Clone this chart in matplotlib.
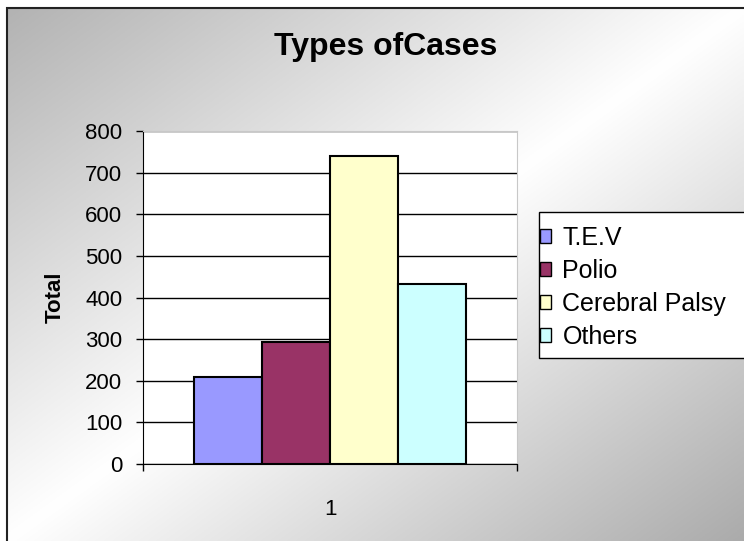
import numpy as np
import matplotlib
matplotlib.use('Agg')
from matplotlib import pyplot as plt
from matplotlib.patches import Rectangle

plt.rcParams['font.family'] = ['Liberation Sans', 'DejaVu Sans']

series = ['T.E.V', 'Polio', 'Cerebral Palsy', 'Others']
values = [210, 292, 740, 432]
colors = ['#9999FF', '#993366', '#FFFFCC', '#CCFFFF']
category = '1'

W, H = 744, 541
fig = plt.figure(figsize=(W / 100, H / 100), dpi=100)

# chart area background: diagonal gray-white-gray gradient inside a border
x0, y0 = 7 / W, 1 - 8 / H
bg = fig.add_axes([x0, 0, 1 - x0, y0], zorder=-2)
yy, xx = np.mgrid[0:1:300j, 0:1:400j]
t = (xx + yy) / 2
g = np.where(t < 0.5, 0.70 + 0.30 * (t / 0.5), 1.0 - 0.33 * ((t - 0.5) / 0.5))
g = np.clip(g, 0, 1)
bg.imshow(np.dstack([g, g, g]), aspect='auto', extent=[0, 1, 0, 1], origin='upper')
bg.set_axis_off()
fig.patches.append(Rectangle((x0, -0.01), 1.02 - x0, y0 + 0.01, transform=fig.transFigure,
                             fill=False, edgecolor='#222222', linewidth=1.5, zorder=-1))

ax = fig.add_axes([143 / W, 1 - 464 / H, (517 - 143) / W, (464 - 131) / H])
ax.set_facecolor('white')
w = 1.0
offsets = (np.arange(len(values)) - (len(values) - 1) / 2) * w
bars = []
for off, v, c, s in zip(offsets, values, colors, series):
    b = ax.bar(off, v, width=w, color=c, edgecolor='black', linewidth=1.5, label=s, zorder=3)
    bars.append(b)

ax.set_xlim(-2.75, 2.75)
ax.set_ylim(0, 800)
ax.set_yticks(range(0, 801, 100))
ax.yaxis.grid(True, color='black', linewidth=1)
ax.set_axisbelow(True)
ax.set_xticks([0])
ax.set_xticklabels([category])
ax.set_xticks([-2.75, 2.75], minor=True)
ax.tick_params(axis='x', which='major', length=0, pad=25, labelsize=16)
ax.tick_params(axis='x', which='minor', length=5, direction='out', width=1)
ax.tick_params(axis='y', length=5, direction='out', width=1, labelsize=16, pad=10)
for sp in ['top', 'right']:
    ax.spines[sp].set_color('#c8c8c8')
for sp in ['left', 'bottom']:
    ax.spines[sp].set_color('black')

ax.set_ylabel('Total', fontsize=16, fontweight='bold')
ax.yaxis.set_label_coords((66 - 143) / 374, 0.5)
fig.text(386 / W, 1 - 55 / H, 'Types ofCases', ha='center', va='baseline',
         fontsize=23, fontweight='bold')

# legend box (runs past the right edge like the original)
fig.patches.append(Rectangle((539 / W, 1 - 358 / H), 0.4, (358 - 212) / H,
                             transform=fig.transFigure, facecolor='white',
                             edgecolor='black', linewidth=1, zorder=1))
leg = fig.legend(handles=[b[0] for b in bars], labels=series, loc='upper left',
                 bbox_to_anchor=(540 / W, 1 - 226 / H), fontsize=18, frameon=False,
                 handlelength=0.45, handleheight=0.45, handletextpad=0.45,
                 labelspacing=0.36, borderpad=0, borderaxespad=0)
leg.set_zorder(2)
for h in leg.legend_handles:
    h.set_linewidth(1)

fig.savefig('out.png', dpi=100)
